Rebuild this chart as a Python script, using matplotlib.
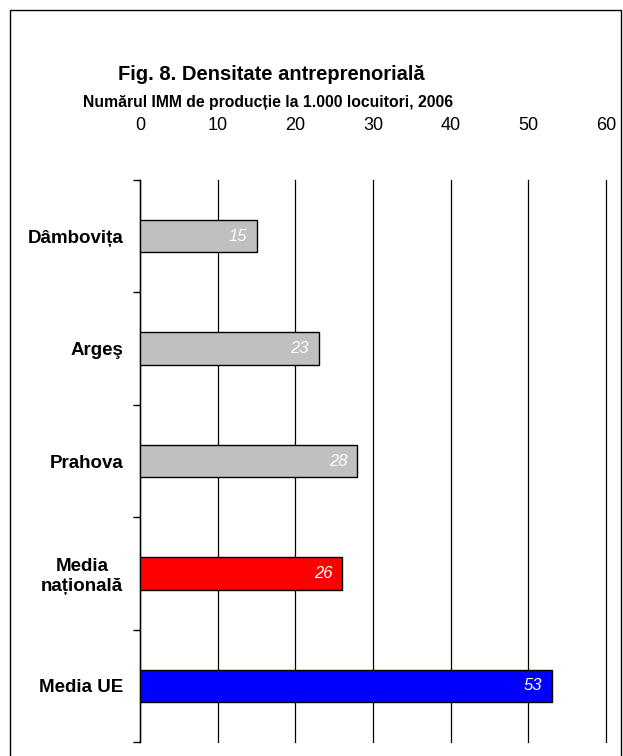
# -*- coding: utf-8 -*-
# Fig. 8 - Densitate antreprenoriala (IMM de productie la 1.000 locuitori, 2006)

import matplotlib
matplotlib.use("Agg")
import matplotlib.pyplot as plt
from matplotlib.patches import Rectangle

plt.rcParams["font.family"] = ["Liberation Sans", "DejaVu Sans"]

categorii = ["Dâmbovița", "Argeş", "Prahova", "Media\nnațională", "Media UE"]
valori = [15, 23, 28, 26, 53]
culori = ["#C0C0C0", "#C0C0C0", "#C0C0C0", "#FF0000", "#0000FF"]
ticks_x = [0, 10, 20, 30, 40, 50, 60]

fig = plt.figure(figsize=(6.23, 7.56), dpi=100)
ax = fig.add_axes([140 / 623, 14 / 756, 466 / 623, 562 / 756])

pozitii = list(range(len(categorii)))
bare = ax.barh(pozitii, valori, height=0.29, color=culori,
               edgecolor="black", linewidth=1, zorder=3)

# etichete cu valori, albe si italice, in capatul barei
for bara, v in zip(bare, valori):
    ax.annotate(str(v), xy=(bara.get_width(), bara.get_y() + bara.get_height() / 2),
                xytext=(-7, 0), textcoords="offset points",
                ha="right", va="center", color="white", style="italic",
                fontsize=12, zorder=4)

ax.set_xlim(0, 60)
ax.set_ylim(len(categorii) - 0.5, -0.5)

ax.set_xticks(ticks_x)
ax.set_xticklabels([str(t) for t in ticks_x])
ax.tick_params(axis="x", top=True, labeltop=True, bottom=False, labelbottom=False,
               length=0, pad=33, labelsize=13)
ax.xaxis.grid(True, color="black", linewidth=0.9, zorder=0)
for linie in ax.get_xgridlines():
    linie.set_clip_on(False)

ax.set_yticks(pozitii)
ax.set_yticklabels(categorii, fontweight="bold", fontsize=13.5)
for lbl in ax.get_yticklabels():
    lbl.set_multialignment("center")
ax.tick_params(axis="y", which="major", length=0, pad=12)
ax.set_yticks([p - 0.5 for p in pozitii] + [len(categorii) - 0.5], minor=True)
ax.tick_params(axis="y", which="minor", length=5, width=1, direction="out")

for lado in ["top", "right", "bottom"]:
    ax.spines[lado].set_visible(False)
ax.spines["left"].set_linewidth(1)

fig.text(0.436, 1 - 75 / 756, "Fig. 8. Densitate antreprenorială",
         ha="center", va="center", fontsize=14.5, fontweight="bold")
fig.text(0.430, 1 - 102 / 756, "Numărul IMM de producție la 1.000 locuitori, 2006",
         ha="center", va="center", fontsize=11.3, fontweight="bold")

# chenarul din jurul figurii
fig.patches.append(Rectangle((10 / 623, -0.01), 611 / 623, 1 - 10 / 756 + 0.01,
                             transform=fig.transFigure, fill=False,
                             edgecolor="black", linewidth=1))

fig.savefig("out.png", dpi=100)
